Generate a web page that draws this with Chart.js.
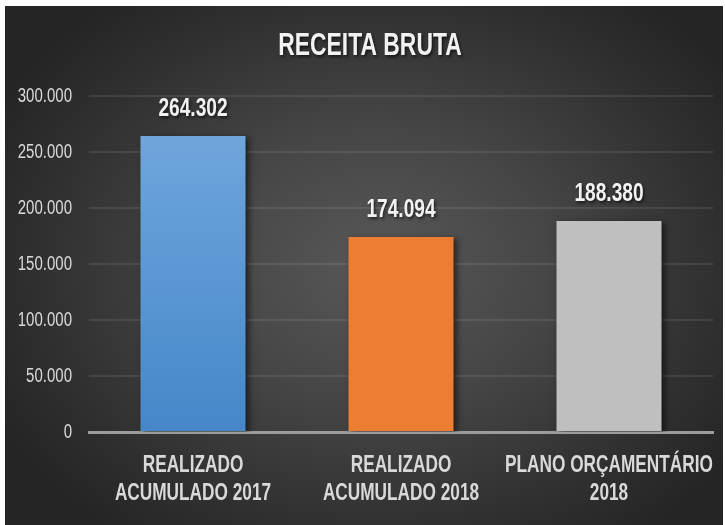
<!DOCTYPE html>
<html>
<head>
<meta charset="utf-8">
<script src="https://cdn.jsdelivr.net/npm/chart.js@4"></script>
<style>
  html, body { margin: 0; padding: 0; background: #ffffff; }
  #wrap {
    position: absolute; left: 5px; top: 6px; width: 718px; height: 519px;
    background: radial-gradient(ellipse 60% 65% at 52% 50%, #585858 0%, #464646 40%, #2f2f2f 80%, #252525 100%);
  }
  canvas { display: block; }
</style>
</head>
<body>
<div id="wrap"><canvas id="c" width="718" height="519"></canvas></div>
<script>
const chartTitle = 'RECEITA BRUTA';
const categories = [
  ['REALIZADO', 'ACUMULADO 2017'],
  ['REALIZADO', 'ACUMULADO 2018'],
  ['PLANO ORÇAMENTÁRIO', '2018']
];
const values = [264302, 174094, 188380];
const yTickValues = [0, 50000, 100000, 150000, 200000, 250000, 300000];
const yTickLabels = ['0', '50.000', '100.000', '150.000', '200.000', '250.000', '300.000'];
const valueLabels = ['264.302', '174.094', '188.380'];

const FONT = '"Liberation Sans", Arial, sans-serif';
const NARROW = 0.75; // horizontal squeeze to imitate the condensed face

const canvas = document.getElementById('c');
const ctx2d = canvas.getContext('2d');
const origFillText = ctx2d.fillText.bind(ctx2d);
ctx2d.fillText = function (text, x, y) {
  this.save();
  this.translate(x, y);
  this.scale(NARROW, 1);
  origFillText(text, 0, 0);
  this.restore();
};

function barColor(ctx) {
  const i = ctx.dataIndex;
  if (i === 0) {
    const area = ctx.chart.chartArea;
    if (!area) return '#5b9bd5';
    const g = ctx.chart.ctx.createLinearGradient(0, area.top, 0, area.bottom);
    g.addColorStop(0, '#74aade');
    g.addColorStop(1, '#4587c9');
    return g;
  }
  return i === 1 ? '#ed7d31' : '#bfbfbf';
}

const decorPlugin = {
  id: 'decor',
  beforeDatasetsDraw(chart) {
    const c = chart.ctx;
    c.save();
    c.shadowColor = 'rgba(0,0,0,0.55)';
    c.shadowBlur = 6;
    c.shadowOffsetX = 3;
    c.shadowOffsetY = 2;
  },
  afterDatasetsDraw(chart) {
    const c = chart.ctx;
    c.restore();
    const meta = chart.getDatasetMeta(0);
    c.save();
    c.shadowColor = 'rgba(0,0,0,0.6)';
    c.shadowBlur = 3;
    c.shadowOffsetX = 1.5;
    c.shadowOffsetY = 1.5;
    c.fillStyle = '#f2f2f2';
    c.textAlign = 'center';
    c.textBaseline = 'middle';
    c.font = 'bold 25.5px ' + FONT;
    meta.data.forEach((bar, i) => {
      c.fillText(valueLabels[i], bar.x, bar.y - 27);
    });
    c.font = 'bold 30.5px ' + FONT;
    c.fillText(chartTitle, 365, 41);
    c.restore();
  }
};

new Chart(canvas, {
  type: 'bar',
  data: {
    labels: categories,
    datasets: [{
      data: values,
      backgroundColor: barColor,
      borderWidth: 0,
      barPercentage: 0.505,
      categoryPercentage: 1.0
    }]
  },
  options: {
    responsive: false,
    animation: false,
    devicePixelRatio: 1,
    layout: { padding: { top: 90, right: 10, left: 0, bottom: 0 } },
    plugins: {
      legend: { display: false },
      title: { display: false },
      tooltip: { enabled: false }
    },
    scales: {
      x: {
        grid: { display: false, drawTicks: false },
        border: { display: true, color: '#9c9c9c', width: 3 },
        ticks: {
          color: '#d9d9d9',
          font: { family: FONT, size: 23, weight: 'bold', lineHeight: 1.24 },
          padding: 19,
          maxRotation: 0,
          minRotation: 0,
          autoSkip: false
        },
        afterFit(scale) {
          scale.height = 93;
          scale.paddingLeft = 0;
          scale.paddingRight = 0;
        }
      },
      y: {
        min: 0,
        max: 300000,
        afterBuildTicks(scale) { scale.ticks = yTickValues.map(v => ({ value: v })); },
        grid: { color: 'rgba(255,255,255,0.09)', lineWidth: 2, drawTicks: false },
        border: { display: false },
        ticks: {
          color: '#d9d9d9',
          font: { family: FONT, size: 20 },
          padding: 17,
          callback(v) {
            const i = yTickValues.indexOf(v);
            return i >= 0 ? yTickLabels[i] : '';
          }
        },
        afterFit(scale) { scale.width = 84; }
      }
    }
  },
  plugins: [decorPlugin]
});
</script>
</body>
</html>
